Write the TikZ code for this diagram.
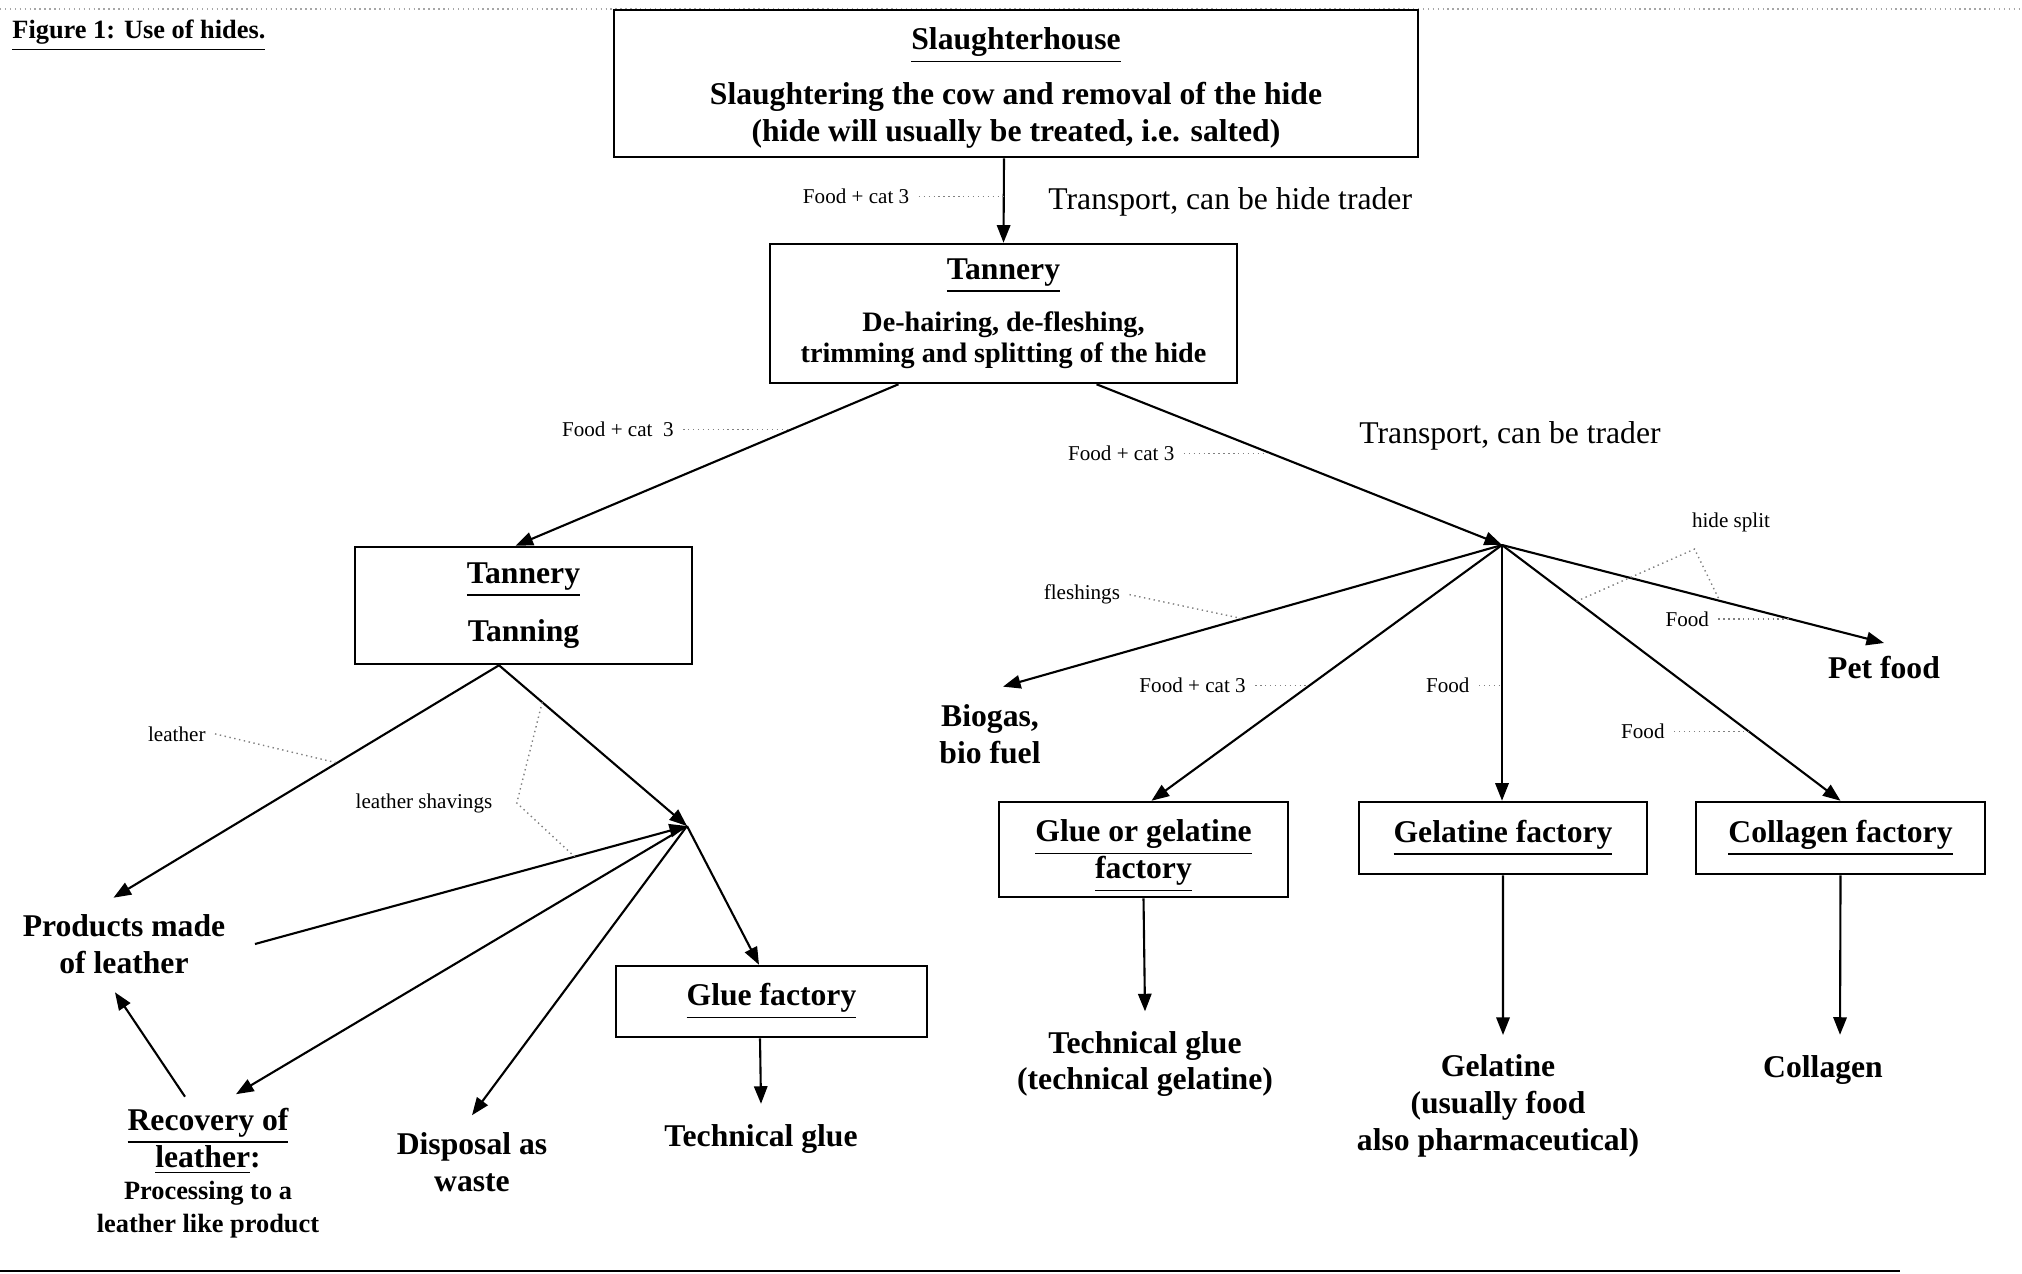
\documentclass[tikz,border=0pt]{standalone}
\usepackage{fontspec}
\setmainfont{Liberation Serif}
\usetikzlibrary{arrows.meta,positioning}

\newcommand{\hd}[1]{\underline{#1}}
\newcommand{\bodyfont}{\fontsize{9}{10.5}\selectfont\bfseries}
\newcommand{\subfont}{\fontsize{8}{9}\selectfont\bfseries}
\newcommand{\notefont}{\fontsize{7.5}{8.5}\selectfont\bfseries}
\newcommand{\lblfont}{\fontsize{6}{7}\selectfont}

\begin{document}
\begin{tikzpicture}[x=0.01cm, y=-0.01cm,
  box/.style={draw, line width=0.7pt, align=center, font=\bodyfont, inner sep=2pt},
  txt/.style={align=center, font=\bodyfont, inner sep=0pt},
  lbl/.style={font=\lblfont, inner sep=2.5pt},
  arr/.style={-{Triangle[length=5pt, width=3.8pt]}, line width=0.6pt},
  leader/.style={gray, densely dotted, line width=0.4pt}]

\useasboundingbox (0,0) rectangle (2022,1273);
% page rules
\draw[gray!70, densely dotted, line width=0.4pt] (0,9) -- (2022,9);
\draw[line width=0.6pt] (0,1271) -- (1900,1271);

\node[anchor=west, font=\fontsize{7.5}{9}\selectfont\bfseries] (title) at (0,36) {\hd{Figure 1: Use of hides.}};

% boxes
\node[box, minimum width=8.04cm, minimum height=1.47cm] (slaughter) at (1016,83.5)
  {\rule{0pt}{8.8pt}\hd{Slaughterhouse}\\[5pt] Slaughtering the cow and removal of the hide\\ (hide will usually be treated, i.e. salted)};
\node[box, minimum width=4.67cm, minimum height=1.39cm] (tannery) at (1003.5,313.5)
  {\hd{Tannery}\\[4.2pt] \subfont De-hairing, de-fleshing,\\[-1.7pt] \subfont trimming and splitting of the hide};
\node[box, minimum width=3.37cm, minimum height=1.17cm] (tanning) at (523.5,605.5)
  {\hd{Tannery}\\[6pt] Tanning};
\node[box, minimum width=3.11cm, minimum height=0.71cm] (gluefac) at (771.5,1001.5) {\hd{Glue factory}};
\node[box, inner ysep=1pt, minimum width=2.89cm, minimum height=0.95cm] (gluegel) at (1143.5,849.5) {\rule{0pt}{10pt}\hd{Glue or gelatine}\\ \hd{factory}};
\node[box, minimum width=2.88cm, minimum height=0.72cm] (gelfac) at (1503,838) {\hd{Gelatine factory}};
\node[box, minimum width=2.89cm, minimum height=0.72cm] (collfac) at (1840.5,838) {\hd{Collagen factory}};

% end products
\node[txt] (products) at (124,944) {Products made\\ of leather};
\node[txt] (recovery) at (208,1173) {\hd{Recovery of}\\ \hd{leather}:\\[-1.2pt] \notefont Processing to a\\[-1.2pt] \notefont leather like product};
\node[txt] (disposal) at (472,1162) {Disposal as\\ waste};
\node[txt] (techglue) at (761,1139) {Technical glue};
\node[txt] (biogas) at (990,734) {Biogas,\\ bio fuel};
\node[txt] (petfood) at (1884,668) {Pet food};
\node[txt] (techgel) at (1145,1064) {Technical glue\\ (technical gelatine)};
\node[txt] (gelatine) at (1498,1106) {Gelatine\\ (usually food\\ also pharmaceutical)};
\node[txt] (collagen) at (1823,1070) {Collagen};

\node[anchor=west, font=\fontsize{9}{11}\selectfont] (trans1) at (1036,202) {Transport, can be hide trader};
\node[anchor=west, font=\fontsize{9}{11}\selectfont] (trans2) at (1347,436) {Transport, can be trader};

% split points
\coordinate (hubA) at (1502,545);
\coordinate (hubB) at (687,826);

% hides
\draw[arr] ([xshift=-0.12cm]slaughter.south) -- (tannery.north) coordinate[pos=0.45] (p1);
\draw[arr] ([xshift=-1.05cm]tannery.south) -- ([xshift=-0.08cm]tanning.north) coordinate[pos=0.28] (p2);
\draw[arr] ([xshift=0.93cm]tannery.south) -- (hubA) coordinate[pos=0.43] (p3);
\draw[arr] (hubA) -- ([shift={(0.13cm,0.17cm)}]biogas.north) coordinate[pos=0.52] (p4);
\draw[arr] (hubA) -- ([xshift=0.08cm]gluegel.north) coordinate[pos=0.55] (p5);
\draw[arr] (hubA) -- (hubA |- gelfac.north) coordinate[pos=0.55] (p10);
\draw[arr] (hubA) -- (collfac.north) coordinate[pos=0.22] (p6) coordinate[pos=0.73] (p9);
\draw[arr] (hubA) -- ([yshift=0.13cm]petfood.north) coordinate[pos=0.57] (p7) coordinate[pos=0.755] (p8);
\draw[arr] (gluegel.south) -- ([yshift=0.19cm]techgel.north);
\draw[arr] (gelfac.south) -- ([shift={(0.05cm,0.19cm)}]gelatine.north);
\draw[arr] (collfac.south) -- ([shift={(0.17cm,0.20cm)}]collagen.north);

% leather
\draw[arr] ([xshift=-0.245cm]tanning.south) -- ([shift={(-0.105cm,0.16cm)}]products.north) coordinate[pos=0.42] (q1);
\draw[arr] ([xshift=-0.245cm]tanning.south) -- (hubB) coordinate[pos=0.23] (q2);
\draw[arr] ([xshift=0.29cm]products.east) -- (hubB) coordinate[pos=0.74] (q3);
\draw[arr] (hubB) -- ([shift={(0.28cm,0.13cm)}]recovery.north);
\draw[arr] (hubB) -- ([yshift=0.165cm]disposal.north);
\draw[arr] (hubB) -- ([xshift=-0.125cm]gluefac.north);
\draw[arr] ([shift={(-0.23cm,0.105cm)}]recovery.north) -- ([shift={(-0.09cm,-0.18cm)}]products.south);
\draw[arr] ([xshift=-0.115cm]gluefac.south) -- ([yshift=0.20cm]techglue.north);

% small labels
\node[lbl, left=0.85cm of p1] (lbltop) {Food + cat 3};
\draw[leader] (lbltop) -- (p1);
\node[lbl, left=1.08cm of p2] (lblleft) {Food + cat\ \ 3};
\draw[leader] (lblleft) -- (p2);
\node[lbl, left=0.87cm of p3] (lblright) {Food + cat 3};
\draw[leader] (lblright) -- (p3);
\node[lbl, left=1.13cm of p4, yshift=0.24cm] (lblflesh) {fleshings};
\draw[leader] (lblflesh.east) -- (p4);
\node[lbl, left=0.54cm of p5] (lblgg) {Food + cat 3};
\draw[leader] (lblgg) -- (p5);
\node[lbl, left=0.23cm of p10] (lblgel) {Food};
\draw[leader] (lblgel) -- (p10);
\node[lbl, left=0.75cm of p9] (lblcoll) {Food};
\draw[leader] (lblcoll) -- (p9);
\node[lbl, left=0.72cm of p8] (lblpet) {Food};
\draw[leader] (lblpet) -- (p8);
\node[lbl] (hidesplit) at (1731,522) {hide split};
\draw[leader] (p6) -- ([shift={(0.12cm,-0.08cm)}]hidesplit.south west) -- (p7);
\node[lbl, left=1.22cm of q1, yshift=0.29cm] (lblleather) {leather};
\draw[leader] (lblleather.east) -- (q1);
\node[lbl] (lblshav) at (424,803) {leather shavings};
\draw[leader] (q2) -- ([xshift=0.15cm]lblshav.east) -- (q3);
\end{tikzpicture}
\end{document}
